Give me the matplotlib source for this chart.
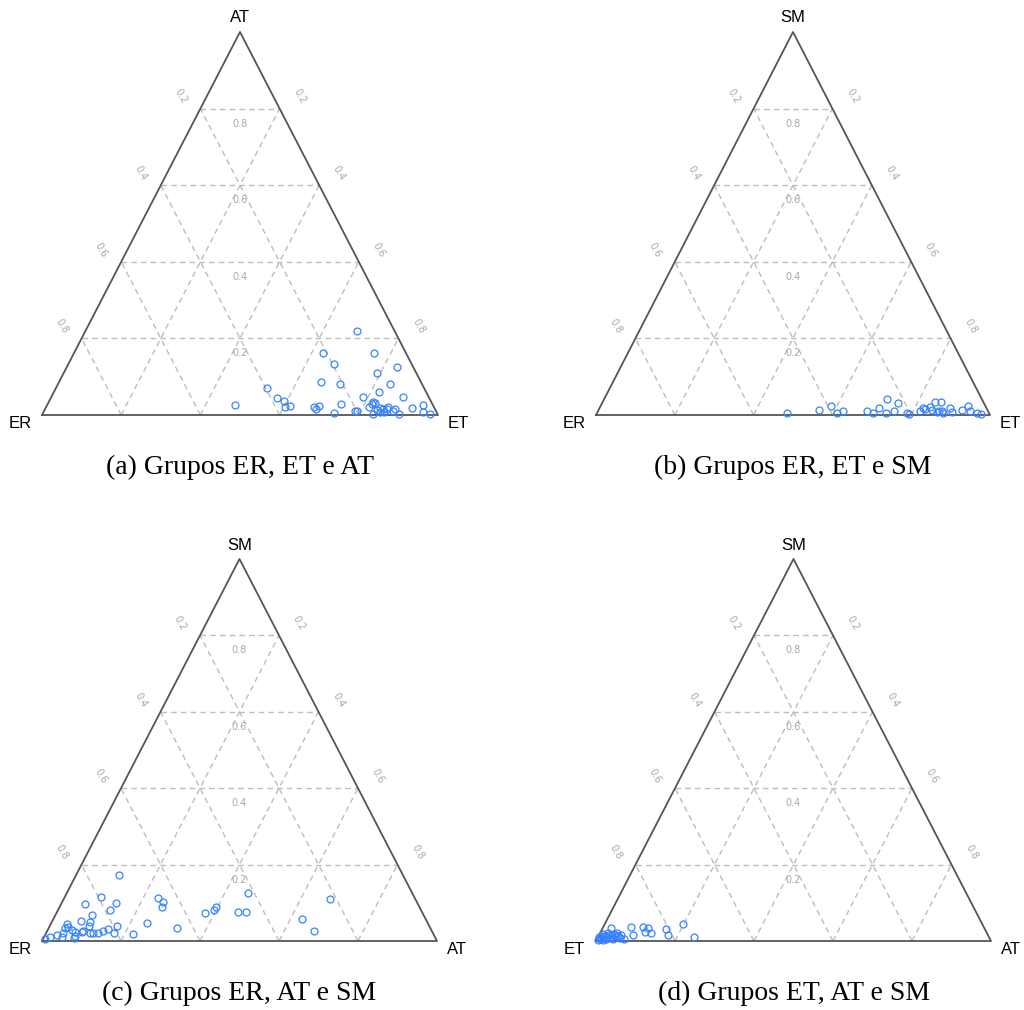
import matplotlib
matplotlib.use("Agg")
import matplotlib.pyplot as plt

# ---------------- data (fractions) ----------------
# Panel (a): vertices ER (left), ET (right), AT (top)
a_ET = [.685, .629, .757, .670, .833, .791, .662, .712, .838, .533, .821, .888, .787, .571, .593,
        .474, .614, .603, .676, .687, .684, .741, .735, .785, .790, .819, .825, .815, .839, .819,
        .845, .853, .863, .863, .881, .900, .834, .925, .949, .958, .978, .860, .850, .883]
a_AT = [.220, .162, .162, .134, .126, .110, .086, .081, .081, .071, .060, .047, .047, .045, .037,
        .026, .024, .021, .021, .024, .016, .029, .005, .010, .010, .029, .031, .021, .013, .034,
        .018, .016, .016, .021, .010, .003, .003, .018, .026, .008, .003, .008, .008, .016]

# Panel (b): vertices ER (left), ET (right), SM (top)
b_ET = [.482, .559, .585, .609, .622, .683, .700, .709, .733, .718, .751, .751, .787, .793, .817,
        .821, .827, .838, .846, .843, .861, .859, .866, .873, .878, .889, .900, .922, .932, .944,
        .964, .976]
b_SM = [.005, .013, .023, .005, .010, .010, .005, .018, .005, .042, .010, .031, .005, .003, .010,
        .018, .016, .021, .013, .034, .008, .034, .010, .010, .005, .018, .008, .013, .023, .010,
        .005, .003]

# Panel (c): vertices ER (left), AT (right), SM (top)
c_AT = [.109, .092, .061, .138, .132, .093, .073, .097, .100, .091, .171, .151, .141, .131, .119,
        .172, .221, .242, .237, .255, .259, .325, .376, .395, .396, .459, .458, .478, .674, .629,
        .676, .041, .048, .041, .062, .072, .043, .089, .111, .077, .030, .046, .015, .005, .077]
c_SM = [.173, .115, .097, .099, .081, .068, .052, .050, .039, .026, .039, .031, .026, .021, .021,
        .021, .018, .047, .113, .102, .089, .034, .073, .081, .089, .126, .076, .076, .110, .058,
        .026, .045, .037, .034, .029, .024, .021, .024, .021, .013, .016, .010, .010, .005, .008]

# Panel (d): vertices ET (left), AT (right), SM (top)
d_AT = [.070, .100, .115, .112, .129, .162, .174, .198, .243, .086, .068, .021, .020, .016, .044,
        .057, .009, .004, .040, .031, .055, .016, .023, .033, .008, .043,
        .003, .009, .016, .023, .025, .037, .050, .009]
d_SM = [.037, .037, .034, .024, .021, .031, .016, .045, .010, .016, .005, .034, .021, .013, .013,
        .008, .008, .003, .005, .008, .016, .003, .005, .016, .005, .021,
        .010, .013, .008, .010, .016, .018, .013, .018]

grid_levels = [0.2, 0.4, 0.6, 0.8]
grid_labels = ["0.2", "0.4", "0.6", "0.8"]

panels = [
    dict(right=a_ET, top=a_AT, names=("ER", "ET", "AT"), caption="(a) Grupos ER, ET e AT",
         box=(42, 438, 415, 32)),
    dict(right=b_ET, top=b_SM, names=("ER", "ET", "SM"), caption="(b) Grupos ER, ET e SM",
         box=(596, 990, 415, 32)),
    dict(right=c_AT, top=c_SM, names=("ER", "AT", "SM"), caption="(c) Grupos ER, AT e SM",
         box=(42, 437, 941, 559)),
    dict(right=d_AT, top=d_SM, names=("ET", "AT", "SM"), caption="(d) Grupos ET, AT e SM",
         box=(596, 991, 941, 559)),
]

W, H = 1024, 1010
fig = plt.figure(figsize=(W / 100, H / 100), dpi=100)
fig.patch.set_facecolor("white")

grid_col = "#bdbdbd"
lab_col = "#a8a8a8"
edge_col = "#555555"
pt_col = "#3582ff"

for p in panels:
    x0, x1, yb, yt = p["box"]
    ax = fig.add_axes([x0 / W, (H - yb) / H, (x1 - x0) / W, (yb - yt) / H])
    ax.set_xlim(0, 1)
    ax.set_ylim(0, 1)
    ax.axis("off")
    pxx = (x1 - x0)   # pixels per unit x
    pxy = (yb - yt)   # pixels per unit y

    # grid
    for t in grid_levels:
        ax.plot([t / 2, 1 - t / 2], [t, t], ls=(0, (4, 3)), color=grid_col, lw=1.0, zorder=1)
        ax.plot([t, t + (1 - t) / 2], [0, 1 - t], ls=(0, (4, 3)), color=grid_col, lw=1.0, zorder=1)
        ax.plot([1 - t, (1 - t) / 2], [0, 1 - t], ls=(0, (4, 3)), color=grid_col, lw=1.0, zorder=1)

    # outline
    ax.plot([0, 1, 0.5, 0], [0, 0, 1, 0], color=edge_col, lw=1.3, zorder=2, clip_on=False)

    # tick labels
    for t, lab in zip(grid_levels, grid_labels):
        h = 1 - t
        ax.text(h / 2 - 20 / pxx, h + 12 / pxy, lab, rotation=-60, color=lab_col, fontsize=7,
                ha="center", va="center", family="DejaVu Sans")
        ax.text(1 - h / 2 + 20 / pxx, h + 12 / pxy, lab, rotation=-60, color=lab_col, fontsize=7,
                ha="center", va="center", family="DejaVu Sans")
        ax.text(0.5, h - 15 / pxy, f"{h:.1f}", color=lab_col, fontsize=7,
                ha="center", va="center", family="DejaVu Sans")

    # vertex labels
    left, right, top = p["names"]
    ax.text(-22 / pxx, -9 / pxy, left, ha="center", va="center", fontsize=12,
            family="Liberation Sans", clip_on=False)
    ax.text(1 + 20 / pxx, -9 / pxy, right, ha="center", va="center", fontsize=12,
            family="Liberation Sans", clip_on=False)
    ax.text(0.5, 1 + 14 / pxy, top, ha="center", va="center", fontsize=12,
            family="Liberation Sans", clip_on=False)

    # points: x = right + top/2, y = top
    xs = [r + t / 2 for r, t in zip(p["right"], p["top"])]
    ys = list(p["top"])
    ax.plot(xs, ys, ls="none", marker="o", ms=5.0, mfc="none", mec=pt_col, mew=0.9,
            zorder=3, clip_on=False)

    # caption
    fig.text((x0 + x1) / 2 / W, 1 - (yb + 52) / H, p["caption"], ha="center", va="center",
             fontsize=20, family="Liberation Serif")

fig.savefig("out.png", dpi=100, facecolor="white")
